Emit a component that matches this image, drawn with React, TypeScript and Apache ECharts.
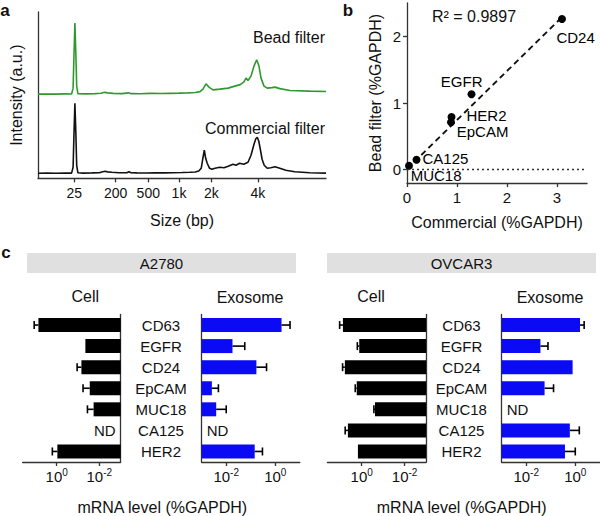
import React, { useEffect, useRef } from 'react';
import * as echarts from 'echarts';

const FONT = 'Liberation Sans, Arial, Helvetica, sans-serif';

// ---------- Panel a: electropherogram ----------
const sizeTickLabels = ['25', '200', '500', '1k', '2k', '4k'];
const sizeTickTimes = [26.05, 32.95, 38.38, 43.5, 48.88, 56.63];
const commercialTrace: [number, number][] = [
  [20, 0], [21.5, 0.3], [23, 0.1], [24.5, 0.3], [25.6, 0.2], [25.85, 6], [26.0, 40], [26.15, 70], [26.3, 42],
  [26.45, 8], [26.65, 0.5], [27.5, 0.2], [29, 0.4], [30.2, 0.6], [30.8, 1.5], [31.2, 2.0], [31.6, 1.4], [32.3, 1.0],
  [33.5, 0.6], [34.8, 0.5], [35.15, 1.6], [35.5, 0.6], [36.5, 0.4], [38, 0.3], [39.5, 0.5], [41, 0.4], [42.5, 0.6],
  [44, 0.8], [45.3, 1.0], [46.2, 1.3], [46.8, 2.2], [47.2, 5], [47.45, 14], [47.72, 23], [47.95, 15], [48.2, 10],
  [48.6, 5], [49.0, 4], [49.5, 5], [50.3, 6], [51.0, 5.5], [51.7, 7], [52.5, 9], [53.0, 8], [53.6, 10], [54.3, 9],
  [55.0, 11], [55.5, 18], [56.0, 29], [56.3, 34.5], [56.55, 36], [56.8, 32], [57.05, 24], [57.35, 14], [57.7, 8],
  [58.2, 5], [58.8, 5.5], [59.5, 6.5], [60.3, 5], [61.3, 3], [62.8, 1.5], [65.3, 0.6], [68, 0.2],
];
const beadTrace: [number, number][] = [
  [20, 0], [21.5, 0.2], [23, 0], [24.5, 0.3], [25.6, 0.2], [25.85, 6], [26.0, 40], [26.15, 71], [26.3, 42],
  [26.45, 8], [26.65, 0.5], [28, 0.3], [29.5, 0.5], [30.5, 0.9], [31.1, 1.8], [31.6, 1.3], [32.5, 0.8], [34, 0.5],
  [35.1, 1.3], [35.5, 0.5], [37, 0.4], [38.7, 0.8], [40.5, 0.6], [42, 0.8], [43.5, 1.0], [45, 1.3], [46.2, 1.6],
  [47.0, 2.5], [47.5, 5], [48.0, 10.3], [48.5, 7], [49.17, 4.3], [50.3, 5], [51.7, 6], [52.8, 8], [53.7, 9.5],
  [54.3, 12], [54.67, 16], [55.0, 13.6], [55.5, 18], [56.0, 28], [56.45, 34.3], [56.83, 28], [57.17, 16],
  [57.67, 8], [58.2, 6], [59.0, 6.5], [59.5, 7], [60.3, 5.5], [62, 3.6], [65.3, 3.0], [68, 2.6],
];
const beadOffset = 79;

// ---------- Panel b: correlation ----------
const markerNames = ['CD24', 'EGFR', 'HER2', 'EpCAM', 'CA125', 'MUC18'];
const commercialLevel = [3.1, 1.29, 0.89, 0.88, 0.19, 0.04];
const beadLevel = [2.26, 1.13, 0.79, 0.71, 0.15, 0.06];
const fitSlope = 0.735;
const fitIntercept = 0.01;
const fitXRange = [0, 3.1];
const rSquared = '0.9897';

// ---------- Panel c: mRNA levels ----------
const genes = ['CD63', 'EGFR', 'CD24', 'EpCAM', 'MUC18', 'CA125', 'HER2'];
const a2780Cell = [7.2, 0.045, 0.069, 0.028, 0.0185, null, 0.93];
const a2780CellErr = [11.4, null, 0.11, 0.058, 0.036, null, 1.6];
const a2780Exo = [1.8, 0.018, 0.17, 0.0026, 0.0039, null, 0.145];
const a2780ExoErr = [4.0, 0.057, 0.44, 0.0048, 0.01, null, 0.3];
const ovcar3Cell = [7.5, 1.3, 6.1, 1.7, 0.24, 4.4, 1.5];
const ovcar3CellErr = [10.7, 1.6, 7.8, 2.0, 0.27, 5.9, null];
const ovcar3Exo = [1.56, 0.038, 0.78, 0.056, null, 0.6, 0.38];
const ovcar3ExoErr = [2.3, 0.077, null, 0.13, null, 1.46, 1.0];
const logTicks = [1, 0.01];
const axisFloor = 0.001;

const AX = '#333';
const TXT = '#111';

function buildOption() {
  const axisLineStyle = { color: AX, width: 1.3 };

  const logX = (grid: number, inverse: boolean, max: number) => ({
    type: 'log',
    logBase: 10,
    gridIndex: grid,
    min: axisFloor,
    max,
    inverse,
    startValue: axisFloor,
    axisLine: { show: true, onZero: false, lineStyle: axisLineStyle },
    axisTick: { show: true, customValues: logTicks, length: 4, lineStyle: axisLineStyle },
    minorTick: { show: false },
    splitLine: { show: false },
    axisLabel: {
      customValues: logTicks,
      margin: 5,
      formatter: (v: number) => `{b|10}{s|${Math.round(Math.log10(v))}}`,
      rich: {
        b: { fontSize: 15, color: TXT, fontFamily: FONT },
        s: { fontSize: 10, color: TXT, fontFamily: FONT, padding: [0, 0, 8, 0] },
      },
    },
  });

  const catY = (grid: number, position: string, showLabels: boolean, margin: number) => ({
    type: 'category',
    gridIndex: grid,
    data: genes,
    inverse: true,
    position,
    axisLine: { show: true, onZero: false, lineStyle: axisLineStyle },
    axisTick: { show: false },
    splitLine: { show: false },
    axisLabel: { show: showLabels, align: 'center', margin, fontSize: 15, color: TXT, fontFamily: FONT },
  });

  const barSeries = (axis: number, values: (number | null)[], color: string, ndPos: string) => ({
    type: 'bar',
    xAxisIndex: axis,
    yAxisIndex: axis,
    barWidth: 14,
    itemStyle: { color },
    data: values.map((v) =>
      v == null
        ? {
            value: axisFloor,
            label: { show: true, formatter: 'ND', position: ndPos, distance: 5, fontSize: 15, color: TXT, fontFamily: FONT },
          }
        : v
    ),
  });

  const errSeries = (axis: number, values: (number | null)[], errs: (number | null)[]) => {
    const data: number[][] = [];
    values.forEach((v, i) => {
      const e = errs[i];
      if (v != null && e != null) data.push([i, v, e]);
    });
    return {
      type: 'custom',
      xAxisIndex: axis,
      yAxisIndex: axis,
      encode: { x: [1, 2], y: 0 },
      data,
      z: 5,
      renderItem: (params: any, api: any) => {
        const cat = api.value(0);
        const p0 = api.coord([api.value(1), cat]);
        const p1 = api.coord([api.value(2), cat]);
        const st = { stroke: '#000', lineWidth: 1.6 };
        return {
          type: 'group',
          children: [
            { type: 'line', shape: { x1: p0[0], y1: p0[1], x2: p1[0], y2: p1[1] }, style: st },
            { type: 'line', shape: { x1: p1[0], y1: p1[1] - 4, x2: p1[0], y2: p1[1] + 4 }, style: st },
          ],
        };
      },
    };
  };

  const labelOffsets: Record<string, number[]> = {
    CD24: [-5.6, 18],
    EGFR: [-30.7, -12.6],
    HER2: [15, -1.8],
    EpCAM: [5.7, 9.6],
    CA125: [6, -0.7],
    MUC18: [1.7, 10],
  };

  const gridBase = { containLabel: false, outerBoundsMode: 'none', show: false };
  const cellMax = Math.pow(10, 1.6);
  const exoMax = 10;

  const txt = (text: string, x: number, y: number, size: number, align = 'center', extra: any = {}) => ({
    type: 'text',
    x,
    y,
    z: 10,
    style: { text, fontSize: size, fontFamily: FONT, fill: TXT, align, verticalAlign: 'middle', ...extra },
  });

  return {
    animation: false,
    backgroundColor: '#fff',
    textStyle: { fontFamily: FONT },
    grid: [
      { ...gridBase, left: 38, right: 274, top: 12, height: 166.3 },
      { ...gridBase, left: 407, right: 13, top: 3, height: 180 },
      { ...gridBase, left: 22.6, width: 98, top: 314.5, height: 147.5 },
      { ...gridBase, left: 201.7, width: 98.1, top: 314.5, height: 147.5 },
      { ...gridBase, left: 327.4, width: 98.6, top: 314.5, height: 147.5 },
      { ...gridBase, left: 501.7, width: 98.1, top: 314.5, height: 147.5 },
    ],
    xAxis: [
      {
        type: 'value',
        gridIndex: 0,
        min: 20,
        max: 68,
        axisLine: { show: true, onZero: false, lineStyle: axisLineStyle },
        axisTick: { show: true, customValues: sizeTickTimes, length: 4, lineStyle: axisLineStyle },
        splitLine: { show: false },
        axisLabel: {
          customValues: sizeTickTimes,
          margin: 8,
          fontSize: 14,
          color: TXT,
          formatter: (v: number) => {
            let best = 0;
            sizeTickTimes.forEach((t, i) => {
              if (Math.abs(t - v) < Math.abs(sizeTickTimes[best] - v)) best = i;
            });
            return sizeTickLabels[best];
          },
        },
        name: 'Size (bp)',
        nameLocation: 'middle',
        nameGap: 34,
        nameTextStyle: { fontSize: 16, color: TXT },
      },
      {
        type: 'value',
        gridIndex: 1,
        min: 0,
        max: 3.6,
        axisLine: { show: true, onZero: false, lineStyle: axisLineStyle },
        axisTick: { show: true, customValues: [0, 1, 2, 3], length: 4, lineStyle: axisLineStyle },
        splitLine: { show: false },
        axisLabel: { customValues: [0, 1, 2, 3], margin: 7, fontSize: 15, color: TXT },
        name: 'Commercial (%GAPDH)',
        nameLocation: 'middle',
        nameGap: 31,
        nameTextStyle: { fontSize: 16, color: TXT },
      },
      logX(2, true, cellMax),
      logX(3, false, exoMax),
      logX(4, true, cellMax),
      logX(5, false, exoMax),
    ],
    yAxis: [
      {
        type: 'value',
        gridIndex: 0,
        min: -5,
        max: 161,
        axisLine: { show: true, onZero: false, lineStyle: axisLineStyle },
        axisTick: { show: false },
        axisLabel: { show: false },
        splitLine: { show: false },
        name: 'Intensity (a.u.)',
        nameLocation: 'middle',
        nameRotate: 90,
        nameGap: 14,
        nameTextStyle: { fontSize: 16, color: TXT },
      },
      {
        type: 'value',
        gridIndex: 1,
        min: -0.2,
        max: 2.5,
        axisLine: { show: true, onZero: false, lineStyle: axisLineStyle },
        axisTick: { show: true, customValues: [0, 1, 2], length: 4, lineStyle: axisLineStyle },
        splitLine: { show: false },
        axisLabel: { customValues: [0, 1, 2], margin: 6, fontSize: 15, color: TXT },
        name: 'Bead filter (%GAPDH)',
        nameLocation: 'middle',
        nameRotate: 90,
        nameGap: 24,
        nameTextStyle: { fontSize: 16, color: TXT },
      },
      catY(2, 'right', false, 0),
      catY(3, 'left', true, 40.7),
      catY(4, 'right', false, 0),
      catY(5, 'left', true, 40.2),
    ],
    series: [
      {
        type: 'line',
        xAxisIndex: 0,
        yAxisIndex: 0,
        symbol: 'none',
        lineStyle: { color: '#111', width: 1.6 },
        data: commercialTrace,
      },
      {
        type: 'line',
        xAxisIndex: 0,
        yAxisIndex: 0,
        symbol: 'none',
        lineStyle: { color: '#2e9a2e', width: 1.6 },
        data: beadTrace.map(([t, v]) => [t, v + beadOffset]),
      },
      {
        type: 'line',
        xAxisIndex: 1,
        yAxisIndex: 1,
        symbol: 'none',
        lineStyle: { color: '#111', width: 1.8, type: [6, 4] },
        data: fitXRange.map((x) => [x, fitIntercept + fitSlope * x]),
        z: 2,
      },
      {
        type: 'scatter',
        xAxisIndex: 1,
        yAxisIndex: 1,
        symbolSize: 8,
        itemStyle: { color: '#000', opacity: 1 },
        z: 3,
        label: {
          show: true,
          formatter: '{b}',
          position: 'inside',
          align: 'left',
          verticalAlign: 'middle',
          fontSize: 15,
          color: '#000',
          opacity: 1,
          textBorderWidth: 0,
        },
        emphasis: { disabled: true },
        markLine: {
          silent: true,
          symbol: 'none',
          label: { show: false },
          lineStyle: { color: '#333', width: 1.3, type: [2, 3] },
          data: [{ yAxis: 0 }],
        },
        data: markerNames.map((n, i) => ({
          name: n,
          value: [commercialLevel[i], beadLevel[i]],
          label: { offset: labelOffsets[n] },
        })),
      },
      barSeries(2, a2780Cell, '#000', 'left'),
      errSeries(2, a2780Cell, a2780CellErr),
      barSeries(3, a2780Exo, '#0a0af5', 'right'),
      errSeries(3, a2780Exo, a2780ExoErr),
      barSeries(4, ovcar3Cell, '#000', 'left'),
      errSeries(4, ovcar3Cell, ovcar3CellErr),
      barSeries(5, ovcar3Exo, '#0a0af5', 'right'),
      errSeries(5, ovcar3Exo, ovcar3ExoErr),
    ],
    graphic: [
      txt('a', 5, 10, 17, 'center', { fontWeight: 'bold' }),
      txt('b', 348, 10, 17, 'center', { fontWeight: 'bold' }),
      txt('c', 6, 252, 17, 'center', { fontWeight: 'bold' }),
      txt('Bead filter', 325, 37, 16, 'right'),
      txt('Commercial filter', 325, 128, 16, 'right'),
      txt('R\u00B2 = ' + rSquared, 432, 16, 16, 'left'),
      { type: 'rect', shape: { x: 27, y: 253, width: 269, height: 20 }, style: { fill: '#e0e0e0' } },
      { type: 'rect', shape: { x: 327, y: 253, width: 269, height: 20 }, style: { fill: '#e0e0e0' } },
      txt('A2780', 161.5, 263.5, 15),
      txt('OVCAR3', 461.5, 263.5, 15),
      txt('Cell', 85.3, 296, 16),
      txt('Exosome', 250, 297, 16),
      txt('Cell', 371, 296, 16),
      txt('Exosome', 550, 297, 16),
      txt('mRNA level (%GAPDH)', 162.3, 507, 16),
      txt('mRNA level (%GAPDH)', 461.7, 507, 16),
    ],
  };
}

export default function App() {
  const ref = useRef<HTMLDivElement>(null);
  useEffect(() => {
    document.body.style.margin = '0';
    const chart = echarts.init(ref.current as HTMLDivElement, null, { renderer: 'svg' });
    chart.setOption(buildOption() as any);
    return () => chart.dispose();
  }, []);
  return (
    <div
      ref={ref}
      style={{ width: 600, height: 516, position: 'absolute', left: 0, top: 0, background: '#fff' }}
    />
  );
}
